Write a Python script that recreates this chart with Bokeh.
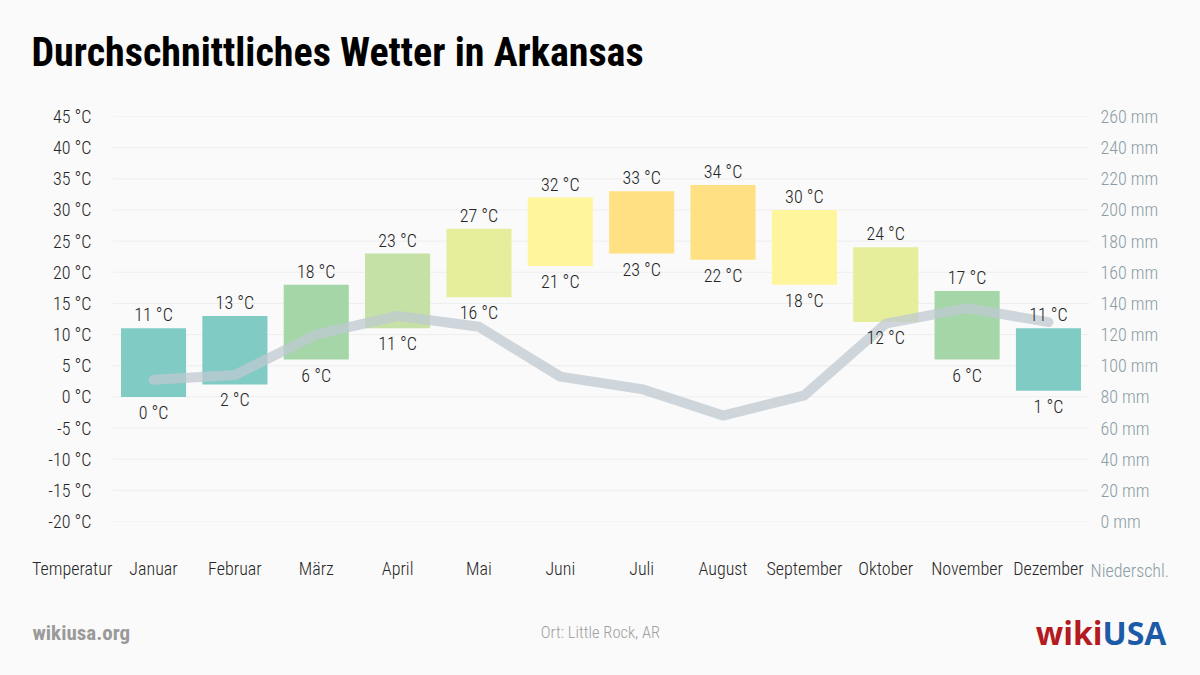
from bokeh.plotting import figure
from bokeh.layouts import column
from bokeh.models import Range1d, LinearAxis, FixedTicker, ColumnDataSource
from bokeh.core.properties import value
from bokeh.embed import file_html
from bokeh.resources import INLINE

# ---------------- data ----------------
months = ["Januar", "Februar", "März", "April", "Mai", "Juni", "Juli",
          "August", "September", "Oktober", "November", "Dezember"]
temp_high = [11, 13, 18, 23, 27, 32, 33, 34, 30, 24, 17, 11]
temp_low = [0, 2, 6, 11, 16, 21, 23, 22, 18, 12, 6, 1]
precip_mm = [91, 94, 120, 132, 125, 93, 85, 68, 81, 127, 137, 128]
bar_colors = ["#80cbc4", "#80cbc4", "#a5d6a7", "#c5e1a5", "#e6ee9c", "#fff59d",
              "#ffe082", "#ffe082", "#fff59d", "#e6ee9c", "#a5d6a7", "#80cbc4"]
temp_ticks = [-20, -15, -10, -5, 0, 5, 10, 15, 20, 25, 30, 35, 40, 45]
precip_ticks = [0, 20, 40, 60, 80, 100, 120, 140, 160, 180, 200, 220, 240, 260]
title_text = "Durchschnittliches Wetter in Arkansas"
left_axis_name = "Temperatur"
right_axis_name = "Niederschl."
site_text = "wikiusa.org"
place_text = "Ort: Little Rock, AR"

# ---------------- style ----------------
FONT_B = "Roboto Condensed, Liberation Sans Narrow, Open Sans"
FONT = "Roboto Condensed Light, Roboto Condensed, Liberation Sans Narrow"
BG = "#fafafa"
TXT = "#262626"
PREC_COL = "#8c9da6"
W = 1200
HEAD_H, MAIN_H, FOOT_H = 96, 504, 75
FL, FR = 31, 1170          # frame left / right (page px), shared by the column


def canvas_fig(h):
    f = figure(width=W, height=h, output_backend="svg", toolbar_location=None,
               x_range=Range1d(FL, FR), y_range=Range1d(h, 0),
               x_axis_location=None, y_axis_location=None,
               min_border_left=FL, min_border_right=W - FR,
               min_border_top=0, min_border_bottom=0,
               background_fill_color=BG, border_fill_color=BG,
               outline_line_color=None)
    f.grid.visible = False
    return f


# ---------------- header ----------------
head = canvas_fig(HEAD_H)
head.text(x=[31], y=[52], text=[title_text], text_align="left",
          text_baseline="middle", text_font=value(FONT_B), text_font_size="40px",
          text_font_style="bold", text_color="#000000")

# ---------------- main chart ----------------
FT, FB = 116 - HEAD_H, 521 - HEAD_H   # frame top / bottom inside main figure
p = figure(width=W, height=MAIN_H, output_backend="svg", toolbar_location=None,
           x_range=Range1d(-0.5, 13.5), y_range=Range1d(-20, 45),
           min_border_left=FL, min_border_right=W - FR,
           min_border_top=FT, min_border_bottom=MAIN_H - FB,
           background_fill_color=BG, border_fill_color=BG,
           outline_line_color=None)
p.extra_y_ranges = {"prec": Range1d(0, 260)}

xa = p.xaxis[0]
xa.ticker = FixedTicker(ticks=list(range(0, 13)))
xa.major_label_overrides = {0: left_axis_name,
                            **{i + 1: m for i, m in enumerate(months)}}
xa2 = LinearAxis(ticker=FixedTicker(ticks=[13]))
xa2.major_label_overrides = {13: right_axis_name}
p.add_layout(xa2, "below")

ya = p.yaxis[0]
ya.ticker = FixedTicker(ticks=temp_ticks)
ya.major_label_overrides = {t: f"{t} °C" for t in temp_ticks}
ra = LinearAxis(y_range_name="prec", ticker=FixedTicker(ticks=precip_ticks))
ra.major_label_overrides = {t: f"{t} mm" for t in precip_ticks}
p.add_layout(ra, "right")

for ax in (xa, xa2, ya, ra):
    ax.axis_line_color = None
    ax.major_tick_line_color = None
    ax.minor_tick_line_color = None
    ax.major_tick_out = 0
    ax.major_tick_in = 0
    ax.major_label_text_font = FONT
    ax.major_label_text_font_size = "18px"
    ax.major_label_text_color = TXT
ra.major_label_text_color = PREC_COL
xa2.major_label_text_color = PREC_COL
xa.major_label_standoff = 36
xa2.major_label_standoff = -22
ya.major_label_standoff = -60
ra.major_label_standoff = -70

p.grid.visible = False
# horizontal grid lines spanning the month area
p.segment(x0=0.5, x1=12.5, y0=temp_ticks, y1=temp_ticks,
          line_color="#eeeeee", line_width=1)

src = ColumnDataSource(dict(
    x=list(range(1, 13)), high=temp_high, low=temp_low, color=bar_colors,
    hl=[f"{v} °C" for v in temp_high], ll=[f"{v} °C" for v in temp_low],
    prec=precip_mm))
p.vbar(x="x", top="high", bottom="low", width=0.8, fill_color="color",
       line_color=None, source=src)

p.line(x="x", y="prec", y_range_name="prec", source=src, line_width=10,
       line_color="#bfcad1", line_alpha=0.75, line_cap="round", line_join="round")

p.text(x="x", y="high", text="hl", source=src, text_align="center",
       text_baseline="bottom", y_offset=-3, text_font=value(FONT),
       text_font_size="18px", text_color=TXT)
p.text(x="x", y="low", text="ll", source=src, text_align="center",
       text_baseline="top", y_offset=5, text_font=value(FONT),
       text_font_size="18px", text_color=TXT)

# ---------------- footer ----------------
foot = canvas_fig(FOOT_H)
foot.text(x=[32], y=[32], text=[site_text], text_align="left",
          text_baseline="middle", text_font=value(FONT_B), text_font_size="21px",
          text_font_style="bold", text_color="#9a9a9a")
foot.text(x=[600], y=[32], text=[place_text], text_align="center",
          text_baseline="middle", text_font=value(FONT), text_font_size="16.5px",
          text_color="#a0a0a0")
foot.text(x=[1102], y=[32], text=["wiki"], text_align="right",
          text_baseline="middle", text_font=value("Open Sans"),
          text_font_size="32px", text_font_style="bold", text_color="#b31b20")
foot.text(x=[1102], y=[32], text=["USA"], text_align="left",
          text_baseline="middle", text_font=value("Open Sans"),
          text_font_size="32px", text_font_style="bold", text_color="#1c5ba6")

layout = column(head, p, foot, spacing=0, styles={"background-color": BG})
open("out.html", "w").write(file_html(layout, INLINE))
